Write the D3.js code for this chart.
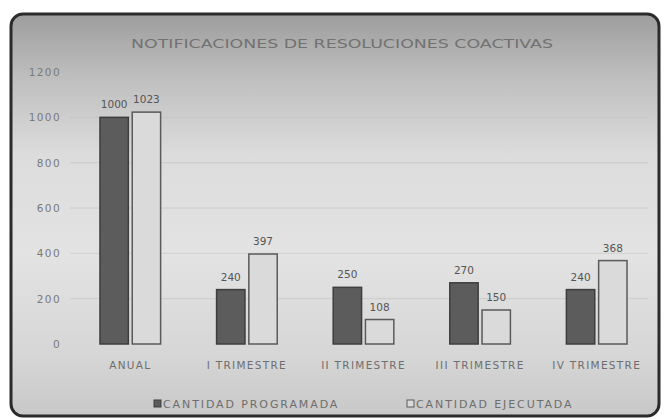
<!DOCTYPE html>
<html>
<head>
<meta charset="utf-8">
<script src="https://cdn.jsdelivr.net/npm/d3@7"></script>
<style>
html,body{margin:0;padding:0;background:#fff;}
svg{display:block;}
</style>
</head>
<body>
<svg id="chart" width="665" height="419"></svg>
<script>
const title = "NOTIFICACIONES DE RESOLUCIONES COACTIVAS";
const categories = ["ANUAL", "I TRIMESTRE", "II TRIMESTRE", "III TRIMESTRE", "IV TRIMESTRE"];
const seriesNames = ["CANTIDAD PROGRAMADA", "CANTIDAD EJECUTADA"];
const programada = [1000, 240, 250, 270, 240];
const ejecutada = [1023, 397, 108, 150, 368];
const yTicks = [0, 200, 400, 600, 800, 1000, 1200];

const svg = d3.select("#chart");

// background gradient
const defs = svg.append("defs");
const g = defs.append("linearGradient").attr("id", "bg").attr("x1", 0).attr("y1", 0).attr("x2", 0).attr("y2", 1);
[[0, "#9d9d9d"], [0.15, "#bdbdbd"], [0.35, "#dcdcdc"], [0.6, "#e3e3e3"], [0.85, "#d6d6d6"], [1, "#c8c8c8"]]
  .forEach(([o, c]) => g.append("stop").attr("offset", o).attr("stop-color", c));

svg.append("rect").attr("x", 11).attr("y", 14).attr("width", 648).attr("height", 402)
  .attr("rx", 12).attr("fill", "url(#bg)").attr("stroke", "#2b2b2b").attr("stroke-width", 3);

const series = [
  {name: seriesNames[0], values: programada, fill: "#5c5c5c", stroke: "#3e3e3e"},
  {name: seriesNames[1], values: ejecutada, fill: "#dadada", stroke: "#5a5a5a"}
];

const x0 = d3.scaleBand().domain(categories).range([72, 655]).paddingInner(0.48).paddingOuter(0.24);
const x1 = d3.scaleBand().domain(seriesNames).range([0, x0.bandwidth()]).paddingInner(0.12);
const y = d3.scaleLinear().domain([0, 1200]).range([344, 72]);

// gridlines
svg.append("g").selectAll("line").data(yTicks.filter(t => t > 0)).join("line")
  .attr("x1", 70).attr("x2", 648)
  .attr("y1", d => y(d)).attr("y2", d => y(d))
  .attr("stroke", "#b8b8b8").attr("stroke-width", 1).attr("opacity", 0.45);

// y axis
const yAxis = svg.append("g").attr("transform", "translate(61,0)")
  .call(d3.axisLeft(y).tickValues(yTicks).tickSize(0).tickPadding(0).tickFormat(d3.format("d")));
yAxis.select(".domain").remove();
yAxis.selectAll("text").attr("font-family", "DejaVu Sans").attr("font-size", 10.5)
  .attr("letter-spacing", 1.4).attr("fill", "#7a7a7a");

// x axis labels
const xAxis = svg.append("g").attr("transform", "translate(0,360)")
  .call(d3.axisBottom(x0).tickSize(0).tickPadding(2));
xAxis.select(".domain").remove();
xAxis.selectAll("text").attr("font-family", "DejaVu Sans").attr("font-size", 10.5)
  .attr("letter-spacing", 1.3).attr("fill", "#6e6e6e");

// bars
const groups = svg.append("g").selectAll("g").data(categories).join("g")
  .attr("transform", d => `translate(${x0(d)},0)`);

groups.selectAll("rect").data((d, i) => series.map(s => ({s, v: s.values[i]}))).join("rect")
  .attr("x", d => x1(d.s.name))
  .attr("y", d => y(d.v))
  .attr("width", x1.bandwidth())
  .attr("height", d => y(0) - y(d.v))
  .attr("fill", d => d.s.fill)
  .attr("stroke", d => d.s.stroke)
  .attr("stroke-width", 1.5);

groups.selectAll("text").data((d, i) => series.map(s => ({s, v: s.values[i]}))).join("text")
  .attr("x", d => x1(d.s.name) + x1.bandwidth() / 2)
  .attr("y", d => y(d.v) - 9)
  .attr("text-anchor", "middle")
  .attr("font-family", "DejaVu Sans").attr("font-size", 10.5).attr("fill", "#555555")
  .text(d => d.v);

// title
svg.append("text").attr("x", 342).attr("y", 48).attr("text-anchor", "middle")
  .attr("font-family", "DejaVu Sans").attr("font-size", 13).attr("fill", "#727272")
  .attr("textLength", 422).attr("lengthAdjust", "spacingAndGlyphs")
  .text(title);

// legend
const legendX = [154, 407];
const leg = svg.append("g").selectAll("g").data(series).join("g")
  .attr("transform", (d, i) => `translate(${legendX[i]},404)`);
leg.append("rect").attr("x", 0).attr("y", -4).attr("width", 7).attr("height", 7)
  .attr("fill", d => d.fill).attr("stroke", d => d.stroke).attr("stroke-width", 1);
leg.append("text").attr("x", 9).attr("y", 4)
  .attr("font-family", "DejaVu Sans").attr("font-size", 11).attr("letter-spacing", 1.9)
  .attr("fill", "#6e6e6e")
  .text(d => d.name);
</script>
</body>
</html>
